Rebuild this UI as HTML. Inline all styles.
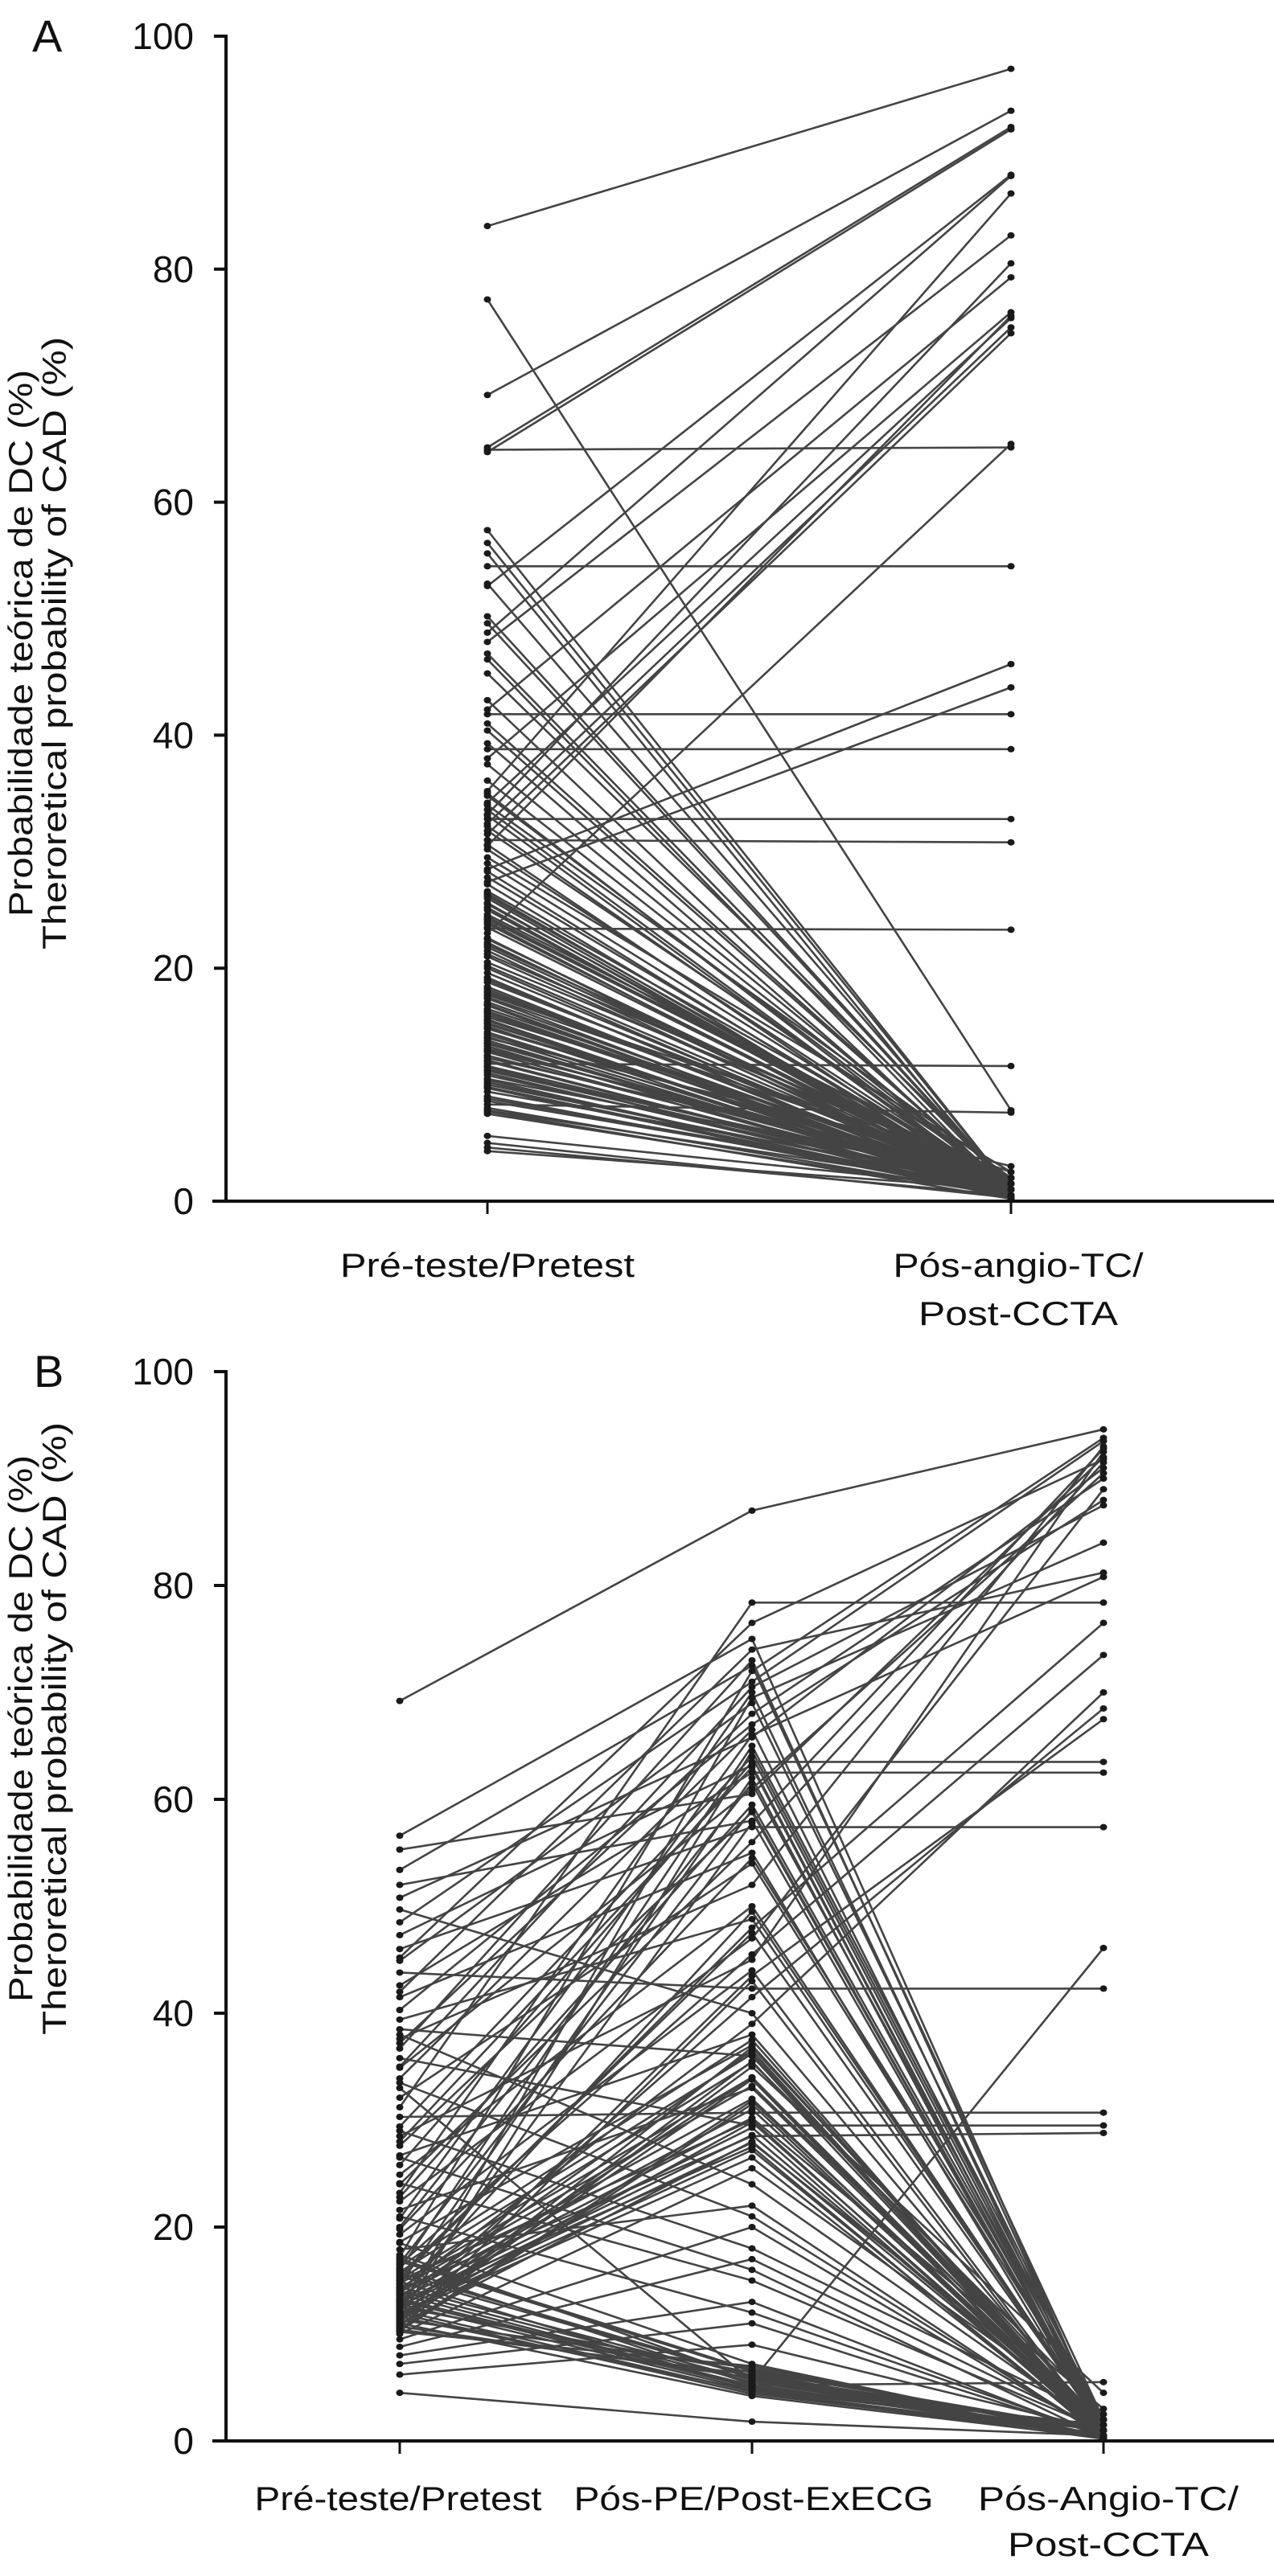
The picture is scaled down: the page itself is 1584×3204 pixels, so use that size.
<!DOCTYPE html>
<html><head><meta charset="utf-8"><style>
html,body{margin:0;padding:0;background:#fff;}
svg{display:block;font-family:"Liberation Sans",sans-serif;}
</style></head><body>
<svg id="fig" width="1584" height="3204" viewBox="0 0 1584 3204" xmlns="http://www.w3.org/2000/svg"></svg>
<script>
// ---- Panel A data ----
const catsA = ["Pré-teste/Pretest", "Pós-angio-TC/|Post-CCTA"];
const preA = [83.7,77.4,69.2,64.7,64.3,64.5,57.6,56.5,55.6,54.5,53.0,52.8,50.2,49.6,48.8,48.0,47.0,46.5,45.3,43.0,42.2,41.8,41.0,40.4,39.3,38.8,38.0,37.5,36.1,35.2,34.2,33.6,33.2,32.8,32.4,31.5,31.0,30.5,29.0,28.5,27.4,26.2,25.6,25.0,24.2,23.4,23.0,22.5,21.8,
 35.0,34.8,34.0,33.1,32.2,31.8,30.6,30.2,29.5,28.3,27.8,27.2,26.6,26.0,25.5,24.6,24.0,23.5,22.6,22.0,21.5,21.0,20.5,20.0,19.6,19.2,18.8,18.4,18.0,17.7,17.4,17.1,16.8,16.5,16.2,16.0,15.8,15.5,15.2,15.0,14.8,14.5,14.3,14.0,13.8,13.5,13.3,13.0,12.8,12.5,12.3,12.0,11.8,11.6,11.5,11.3,11.0,10.8,10.5,10.2,10.0,9.7,9.4,9.0,8.6,8.3,8.0,7.8,7.7,7.5,5.6,5.0,4.6,4.3,
 19.0,18.2,17.5,16.9,16.3,15.6,14.9,14.1,13.6,12.9,12.1,11.2,10.4,9.8,8.8,25.2,24.4,23.8,22.2,21.2,20.2,26.4,17.9,15.3,13.1];
const postA = [97.2,7.8,93.6,92.2,92.0,64.7,1.0,1.0,0.5,54.5,1.0,88.1,1.0,1.0,88.0,82.9,1.0,0.5,1.5,0.5,79.3,41.8,1.0,1.0,0.4,38.8,76.3,1.0,1.0,86.5,75.8,0.5,80.5,32.8,75.0,74.5,30.8,76.0,1.0,46.1,44.1,1.0,0.5,1.0,1.5,23.3,65.0,1.0,1.0,
 0.5,1.0,2.0,0.5,1.0,1.5,0.3,1.0,2.5,0.5,1.0,0.2,1.5,0.5,1.0,2.0,0.5,1.0,0.3,1.5,0.5,1.0,2.0,0.5,1.0,0.2,1.5,0.5,1.0,2.5,0.5,1.0,0.3,1.5,0.5,1.0,2.0,0.5,1.0,0.2,1.5,0.5,1.0,3.0,0.5,1.0,0.3,1.5,0.5,1.0,2.0,0.5,11.6,1.0,0.2,1.5,0.5,1.0,2.0,0.5,1.0,0.3,1.5,0.5,1.0,7.6,0.5,1.0,0.2,0.5,1.0,0.3,0.5,1.0,
 1.0,0.5,2.0,0.5,1.0,0.3,1.5,0.5,1.0,2.0,0.5,1.0,0.3,0.5,1.0,0.5,1.5,1.0,0.5,2.0,1.0,0.5,1.0,0.5,1.0];
const ticksA = [0,20,40,60,80,100];

// ---- Panel B data ----
const catsB = ["Pré-teste/Pretest", "Pós-PE/Post-ExECG", "Pós-Angio-TC/|Post-CCTA"];
const preB = [69.2,4.5,56.6,55.3,53.4,52.0,50.8,49.7,48.5,47.3,46.0,44.9,43.8,42.6,41.5,40.3,39.4,38.5,37.6,36.7,35.8,34.9,33.9,33.0,32.1,31.2,30.3,29.4,28.5,27.6,26.7,25.8,24.9,24.0,23.2,22.4,21.6,20.8,20.0,19.3,18.6,17.9,17.2,16.6,16.0,15.5,15.0,14.6,14.2,13.8,13.4,13.0,12.7,12.4,12.1,11.8,11.5,11.2,10.9,10.6,10.3,10.0,9.5,8.8,8.0,7.2,6.2,
 16.3,15.8,15.1,14.7,14.3,13.9,13.6,13.2,12.9,12.6,12.3,12.0,11.7,11.4,11.1,10.8,10.5,10.2,16.8,15.4,14.0,13.1,12.2,11.3,10.4,17.4,16.1,14.9,13.7,12.5,11.6,10.7,
 38.0,33.5,29.0,26.5,24.1,21.0,18.5,17.0,15.7,14.4,13.3,12.8,11.9,11.0,16.5,15.2,14.1,12.6,11.4,45.2,42.0,37.2,35.0,28.0,22.8,19.8];
const midB = [87.0,1.8,75.0,60.5,72.5,58.0,65.8,40.0,71.0,63.2,57.4,69.0,42.3,62.5,55.0,67.0,48.8,36.0,52.0,73.0,29.5,61.0,66.5,5.6,54.0,78.4,30.7,64.0,45.0,58.8,38.0,63.5,50.0,56.0,70.0,47.0,33.0,66.0,61.5,44.0,37.0,22.0,72.0,59.0,65.0,47.5,30.0,62.0,28.5,49.5,36.5,27.5,57.8,34.0,69.5,26.5,64.5,35.5,28.0,43.0,31.5,25.5,20.0,17.0,13.0,11.0,9.0,
 37.5,36.2,35.4,34.0,33.2,32.0,31.0,30.2,29.3,28.6,27.9,27.2,29.8,33.8,36.8,35.0,31.8,7.0,6.5,6.0,5.5,5.0,4.6,6.8,6.2,5.8,5.3,4.9,5.1,6.4,4.7,5.9,
 24.0,21.0,18.0,16.0,15.0,12.0,7.2,6.6,6.1,5.7,5.2,4.8,4.4,4.2,45.5,48.0,39.0,41.5,43.5,76.5,74.0,68.0,70.5,63.0,59.5,54.5];
const postB = [94.6,0.5,1.0,92.0,2.0,0.5,91.0,1.0,93.5,0.5,57.4,1.5,42.3,62.5,0.5,88.0,1.0,0.5,93.0,1.0,29.5,90.5,0.5,46.1,1.5,78.4,30.7,1.0,92.5,0.5,0.3,63.5,1.0,91.5,0.5,89.0,1.0,80.8,1.5,0.5,1.0,0.3,93.8,0.5,2.0,1.0,0.5,0.3,28.8,1.0,0.5,0.2,92.8,1.0,84.0,0.5,1.5,0.5,1.0,0.3,0.5,2.0,0.5,1.0,0.3,0.5,1.0,
 0.5,1.0,2.5,0.3,1.5,0.5,1.0,3.0,0.5,1.0,2.0,0.5,1.0,0.3,1.5,4.5,1.0,0.5,1.0,0.3,0.5,1.5,0.2,0.5,1.0,0.5,0.3,1.0,0.5,0.2,0.5,1.0,
 1.0,0.5,2.0,0.3,1.0,0.5,0.3,1.0,0.5,0.2,5.5,1.0,0.5,0.3,73.5,76.5,70.0,68.5,67.5,91.8,81.2,90.0,87.5,0.5,1.0,2.0];
const ticksB = [0,20,40,60,80,100];

const NS = "http://www.w3.org/2000/svg";
const svg = document.getElementById('fig');
function mk(tag, attrs, parent){ const e=document.createElementNS(NS,tag); for(const k in attrs) e.setAttribute(k,attrs[k]); (parent||svg).appendChild(e); return e; }

function panel(cfg){
  const g = mk('g',{});
  
  
  const y = v => cfg.y0 - (cfg.y0 - cfg.y100) * v / 100;
  const x = i => cfg.xs[i];
  const lg = mk('g',{stroke:'#444','stroke-width':2.6,fill:'none'},g);
  
  
  const n = Math.min.apply(null, cfg.series.map(s=>s.length));
  for(let p=0;p<n;p++){
    const pts = cfg.series.map((s,i)=>x(i)+','+y(s[p])).join(' ');
    const pl = mk('polyline',{points:pts},lg);
    
    
  }
  const dg = mk('g',{fill:'#1a1a1a'},g);
  
  
  for(let p=0;p<n;p++){
    cfg.series.forEach((s,i)=>{
      const c = mk('ellipse',{cx:x(i),cy:y(s[p]),rx:4.5,ry:4},dg);
      
      
    });
  }
  const ya = mk('line',{x1:281,y1:y(100)-1,x2:281,y2:y(0),stroke:'#111','stroke-width':4},g);
  
  
  const xa = mk('line',{x1:264,y1:y(0),x2:1584,y2:y(0),stroke:'#111','stroke-width':4},g);
  
  
  cfg.ticks.forEach(t=>{
    const tl = mk('line',{x1:266,y1:y(t),x2:283,y2:y(t),stroke:'#111','stroke-width':4},g);
    
    
    const tx = mk('text',{x:241,y:y(t)+16,'text-anchor':'end','font-size':46,fill:'#111'},g);
    tx.textContent = String(t);
    
    
  });
  let wi = 0;
  cfg.cats.forEach((c,i)=>{
    const tk = mk('line',{x1:x(i),y1:y(0),x2:x(i),y2:y(0)+16,stroke:'#111','stroke-width':3},g);
    
    
    c.split('|').forEach((ln,j)=>{
      const t = mk('text',{x:cfg.lx[i],y:cfg.ly+j*cfg.lh,'text-anchor':'middle','font-size':42,fill:'#111',
        textLength:cfg.lw[wi++],lengthAdjust:'spacingAndGlyphs'},g);
      t.textContent = ln;
      
      
    });
  });
  const L = mk('text',{x:cfg.letterX,y:cfg.letterY,'font-size':56,fill:'#111'},g);
  L.textContent = cfg.letter;
  
  
  const t1 = mk('text',{x:0,y:0,'text-anchor':'middle','font-size':42,fill:'#111',textLength:680,lengthAdjust:'spacingAndGlyphs',transform:`translate(40,${cfg.tc}) rotate(-90)`},g);
  t1.textContent = 'Probabilidade teórica de DC (%)';
  
  
  const t2 = mk('text',{x:0,y:0,'text-anchor':'middle','font-size':42,fill:'#111',textLength:762,lengthAdjust:'spacingAndGlyphs',transform:`translate(82,${cfg.tc}) rotate(-90)`},g);
  t2.textContent = 'Theroretical probability of CAD (%)';
  
  
}

panel({name:'panel-a-chart',letter:'A',letterX:40,letterY:64,y0:1494,y100:45,xs:[606,1257],series:[preA,postA],
  cats:catsA,ticks:ticksA,lx:[606,1266],ly:1588,lh:60,tc:800,lw:[366,311,248]});
panel({name:'panel-b-chart',letter:'B',letterX:42,letterY:1725,y0:3036,y100:1706,xs:[497,935,1372],series:[preB,midB,postB],
  cats:catsB,ticks:ticksB,lx:[495,937,1378],ly:3122,lh:57,tc:2150,lw:[357,447,324,250]});
</script>
</body></html>
